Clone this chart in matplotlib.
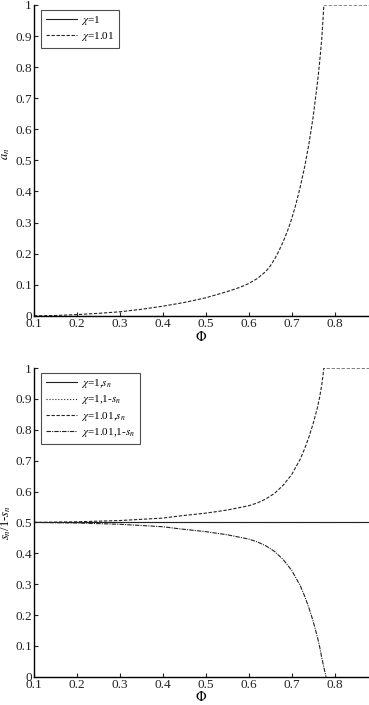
import matplotlib
matplotlib.use("Agg")
import matplotlib.pyplot as plt

plt.rcParams["font.family"] = ["Liberation Serif", "DejaVu Serif"]
plt.rcParams["mathtext.fontset"] = "stix"

# values
phi = [0.10, 0.15, 0.20, 0.25, 0.30, 0.35, 0.40, 0.45, 0.50, 0.55, 0.58, 0.60,
       0.62, 0.64, 0.65, 0.66, 0.67, 0.68, 0.69, 0.70, 0.71, 0.72, 0.73, 0.74,
       0.75, 0.76, 0.765, 0.77, 0.775, 0.776, 0.88]
an_101 = [0.0, 0.001, 0.004, 0.008, 0.013, 0.021, 0.031, 0.043, 0.058, 0.078,
          0.092, 0.104, 0.120, 0.143, 0.160, 0.182, 0.208, 0.238, 0.272, 0.312,
          0.360, 0.415, 0.478, 0.552, 0.640, 0.750, 0.815, 0.890, 1.0, 1.0, 1.0]
an_1 = [0.0] * len(phi)

phi_s = [0.10, 0.20, 0.30, 0.40, 0.44, 0.50, 0.55, 0.60, 0.62, 0.64, 0.66,
         0.68, 0.70, 0.72, 0.73, 0.74, 0.75, 0.76, 0.765, 0.77, 0.775, 0.776, 0.88]
sn_101 = [0.500, 0.502, 0.506, 0.514, 0.521, 0.530, 0.540, 0.554, 0.563, 0.576,
          0.594, 0.620, 0.655, 0.705, 0.738, 0.776, 0.820, 0.872, 0.905, 0.945,
          1.0, 1.0, 1.0]
phi_s2 = [0.10, 0.20, 0.30, 0.40, 0.44, 0.50, 0.55, 0.60, 0.62, 0.64, 0.66,
          0.68, 0.70, 0.72, 0.73, 0.74, 0.75, 0.76, 0.765, 0.77, 0.775, 0.78]
one_minus_sn_101 = [0.500, 0.498, 0.494, 0.486, 0.479, 0.470, 0.460, 0.446,
                    0.437, 0.424, 0.406, 0.380, 0.345, 0.295, 0.262, 0.224,
                    0.180, 0.128, 0.098, 0.062, 0.030, 0.0]
sn_1 = [0.5, 0.5]
phi_flat = [0.1, 0.88]

xticks = [0.1, 0.2, 0.3, 0.4, 0.5, 0.6, 0.7, 0.8]
yticks = [0, 0.1, 0.2, 0.3, 0.4, 0.5, 0.6, 0.7, 0.8, 0.9, 1]
ytick_labels = ["0", "0.1", "0.2", "0.3", "0.4", "0.5", "0.6", "0.7", "0.8", "0.9", "1"]

fig = plt.figure(figsize=(3.69, 7.05), dpi=100)
ax1 = fig.add_axes([0.092, 0.552, 0.908, 0.441])
ax2 = fig.add_axes([0.092, 0.040, 0.908, 0.438])

col = "#222222"
lw = 0.8

ax1.plot(phi, an_1, "-", color=col, lw=lw, label=r"$\chi$=1")
ax1.plot(phi, an_101, "--", color=col, lw=lw, dashes=(3, 1.5), label=r"$\chi$=1.01")
ax1.set_ylabel(r"$a_n$", fontsize=9, va="center")
ax1.yaxis.set_label_coords(-0.083, 0.52)

ax2.plot(phi_flat, sn_1, "-", color=col, lw=lw, label=r"$\chi$=1,$s_n$")
ax2.plot(phi_flat, sn_1, ":", color=col, lw=lw, label=r"$\chi$=1,1-$s_n$")
ax2.plot(phi_s, sn_101, "--", color=col, lw=lw, dashes=(3, 1.5), label=r"$\chi$=1.01,$s_n$")
ax2.plot(phi_s2, one_minus_sn_101, "-.", color=col, lw=lw, dashes=(4, 1, 1, 1),
         label=r"$\chi$=1.01,1-$s_n$")
ax2.set_ylabel(r"$s_n$/1-$s_n$", fontsize=9, va="center")
ax2.yaxis.set_label_coords(-0.083, 0.5)

for ax in (ax1, ax2):
    ax.set_xlim(0.1, 0.88)
    ax.set_ylim(0, 1)
    ax.set_xticks(xticks)
    ax.set_xticklabels([f"{t:.1f}" for t in xticks])
    ax.set_yticks(yticks)
    ax.set_yticklabels(ytick_labels)
    ax.tick_params(direction="in", length=3, width=0.8, labelsize=9.5, pad=1.5, colors="#222222")
    ax.spines["top"].set_visible(False)
    ax.spines["right"].set_visible(False)
    ax.spines["left"].set_linewidth(1.0)
    ax.spines["bottom"].set_linewidth(1.0)
    ax.set_xlabel(r"$\mathit{\Phi}$", fontsize=10, labelpad=-0.3)
    leg = ax.legend(loc="upper left", bbox_to_anchor=(0.022, 0.985), fontsize=8,
                    frameon=True, fancybox=False, handlelength=2.8, borderaxespad=0,
                    borderpad=0.4, labelspacing=0.3, handletextpad=0.4)
    leg.get_frame().set_edgecolor("#222222")
    leg.get_frame().set_linewidth(0.8)

fig.savefig("out.png", dpi=100)
